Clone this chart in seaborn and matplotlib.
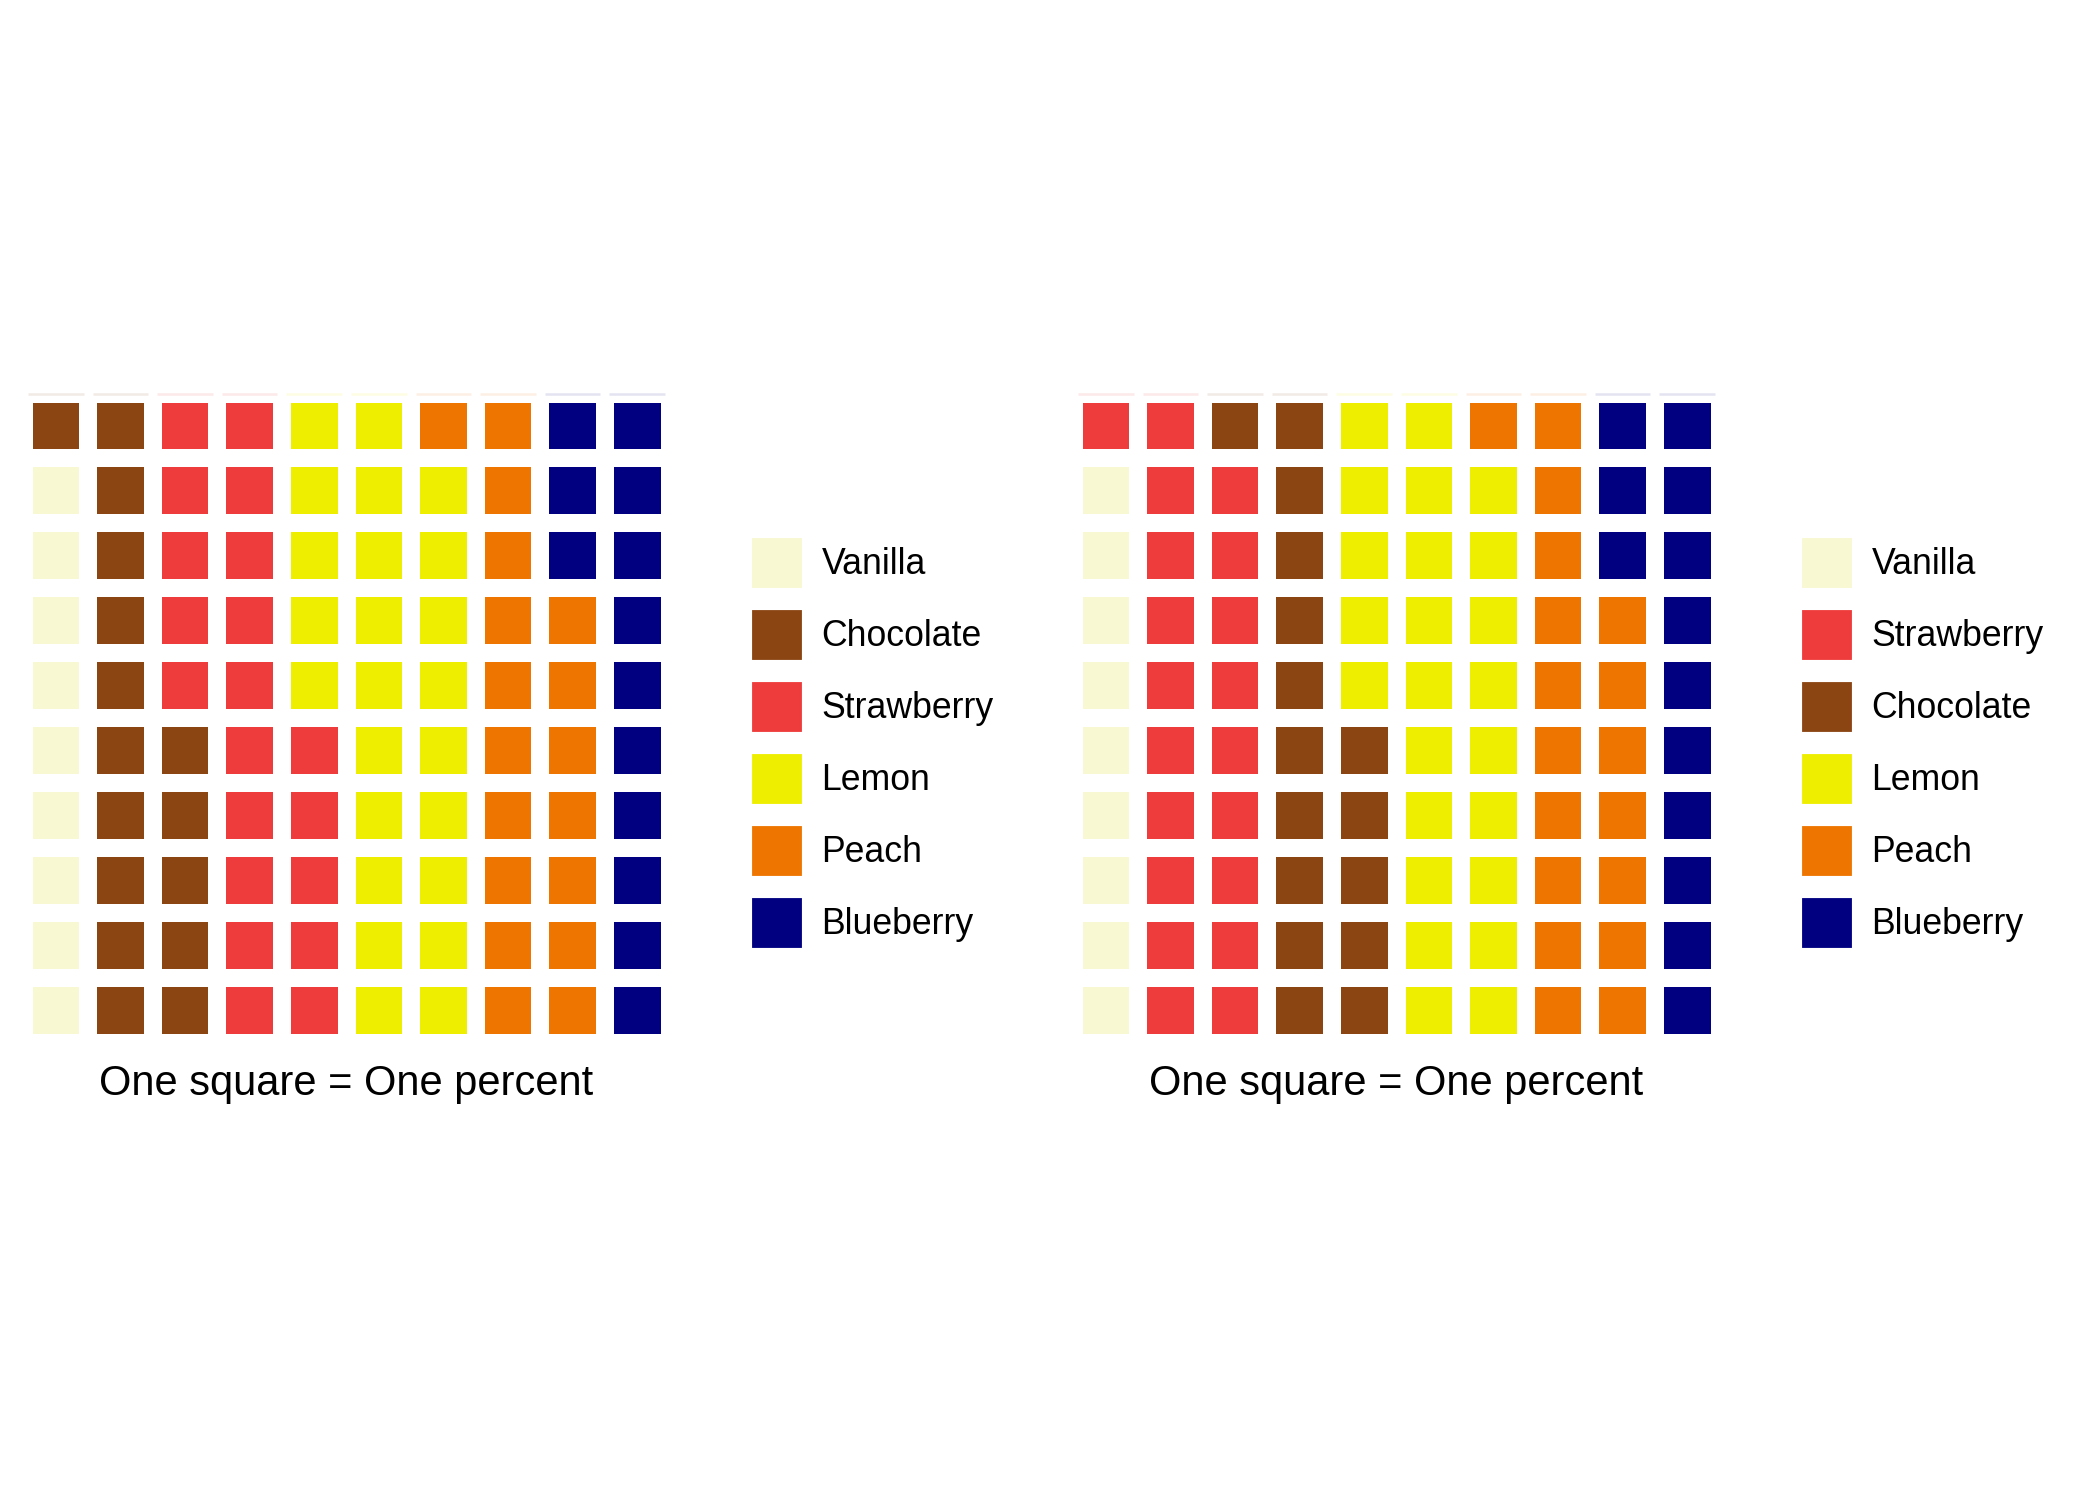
import numpy as np
import pandas as pd
import seaborn as sns
import matplotlib.pyplot as plt
from matplotlib.colors import ListedColormap
from matplotlib.patches import Patch

# data: one square = one percent, filled column by column from the bottom
flavors_left = ["Vanilla", "Chocolate", "Strawberry", "Lemon", "Peach", "Blueberry"]
counts_left = [9, 16, 20, 24, 18, 13]

flavors_right = ["Vanilla", "Strawberry", "Chocolate", "Lemon", "Peach", "Blueberry"]
counts_right = [9, 20, 16, 24, 18, 13]

caption = "One square = One percent"

flavor_colors = {
	"Vanilla": "#F8F8D2",
	"Chocolate": "#8B4513",
	"Strawberry": "#EE3B3B",
	"Lemon": "#EEEE00",
	"Peach": "#EE7600",
	"Blueberry": "#000080",
}

W, H, DPI = 2100, 1499, 300

sns.set_theme(style="white")
plt.rcParams['font.family'] = ['Liberation Sans', 'DejaVu Sans']
plt.rcParams['text.color'] = 'black'

palette = list(flavor_colors.keys())
cmap = ListedColormap([flavor_colors[f] for f in palette])


def waffle_grid(flavors, counts):
	codes = [palette.index(f) for f in flavors]
	seq = np.repeat(codes, counts)
	grid = seq.reshape(10, 10).T[::-1]  # row 0 = top
	return pd.DataFrame(grid)


def draw_waffle(fig, left_px, flavors, counts):
	ax = fig.add_axes([left_px / W, 1 - 1042.5 / H, 646 / W, 649 / H])
	grid = waffle_grid(flavors, counts)
	sns.heatmap(grid, ax=ax, cmap=cmap, vmin=-0.5, vmax=len(palette) - 0.5,
				cbar=False, xticklabels=False, yticklabels=False,
				linewidths=4.2, linecolor="white")
	# faint tile edge residue above the top row
	for j in range(10):
		c = flavor_colors[palette[grid.iloc[0, j]]]
		ax.hlines(0.005, j + 0.07, j + 0.93, colors=c, alpha=0.11, lw=0.6, clip_on=False)

	# legend keys: 54px squares, 72px pitch
	fs = 8.55
	handles = [Patch(facecolor=flavor_colors[f], label=f) for f in flavors]
	ax.legend(handles=handles, loc="upper left",
			  bbox_to_anchor=((left_px + 726.5) / W, 1 - 536 / H),
			  bbox_transform=fig.transFigure, frameon=False,
			  fontsize=fs, handlelength=1.516, handleheight=1.955,
			  labelspacing=0.505, handletextpad=0.49, borderpad=0, borderaxespad=0)

	fig.text((left_px + 323) / W, 1 - 1095 / H, caption,
			 ha="center", va="baseline", fontsize=10)
	ax.set_axis_off()
	return ax


fig = plt.figure(figsize=(W / DPI, H / DPI), dpi=DPI)
fig.patch.set_facecolor("white")

draw_waffle(fig, 23.5, flavors_left, counts_left)
draw_waffle(fig, 1073.5, flavors_right, counts_right)

fig.savefig("out.png", dpi=DPI, facecolor="white")
